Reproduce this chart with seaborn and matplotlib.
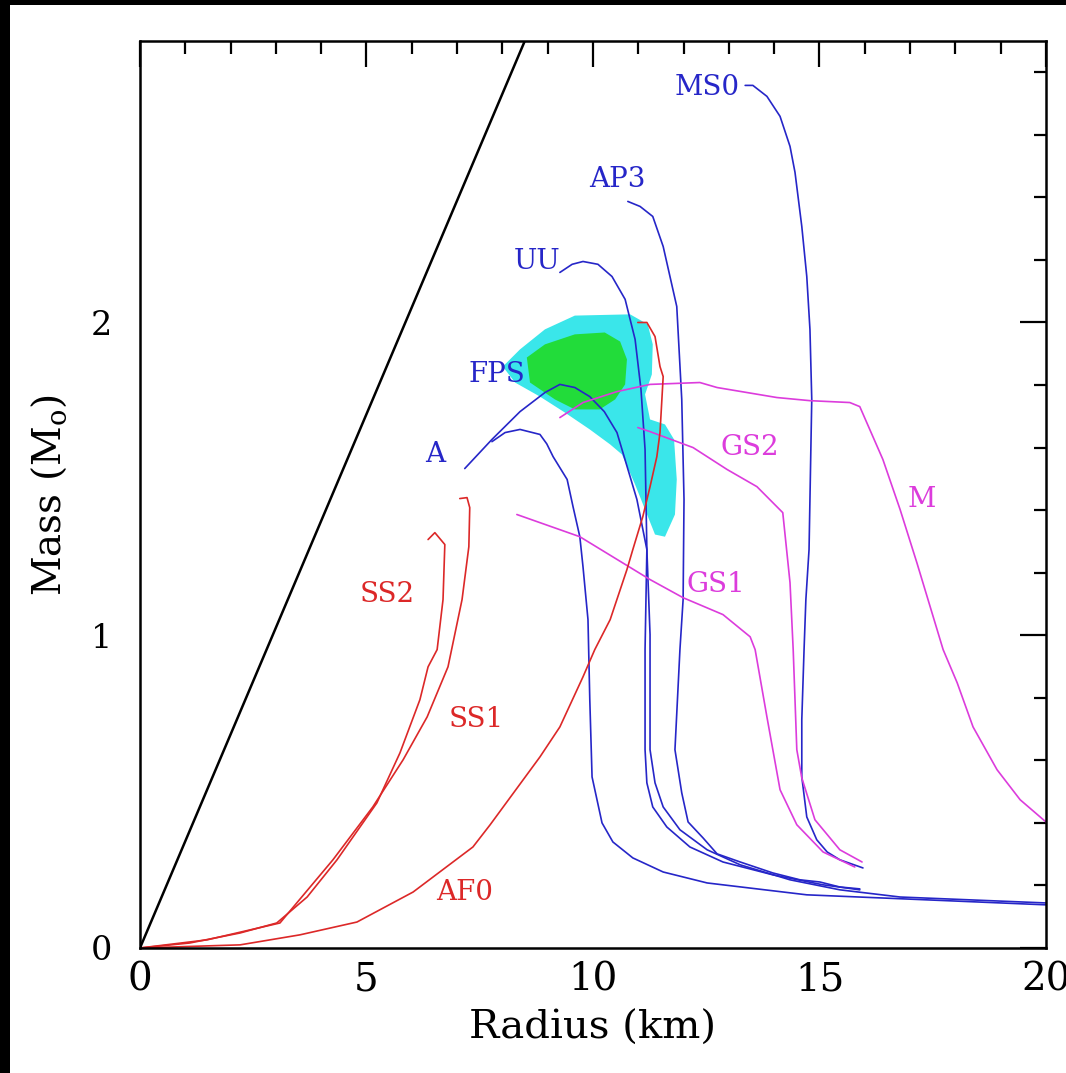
import numpy as np
import pandas as pd
import matplotlib
matplotlib.use("Agg")
import matplotlib.pyplot as plt
import seaborn as sns
from matplotlib.ticker import MultipleLocator
from matplotlib.patches import Rectangle, Polygon

sns.set_theme(style="white")
plt.rcParams["font.family"] = ["DejaVu Serif"]
plt.rcParams["mathtext.fontset"] = "dejavuserif"

# ---- mass-radius curves (R in km, M in solar masses) ----
R_MS0 = [13.36, 13.53, 13.84, 14.13, 14.35, 14.46, 14.61, 14.72, 14.79, 14.83, 14.79, 14.77,
         14.70, 14.66, 14.61, 14.61, 14.72, 14.94, 15.17, 15.45, 15.96]
M_MS0 = [2.758, 2.758, 2.723, 2.659, 2.563, 2.480, 2.307, 2.147, 1.978, 1.754, 1.434, 1.274,
         1.114, 0.954, 0.730, 0.547, 0.419, 0.346, 0.307, 0.282, 0.256]

R_AP3 = [10.77, 11.04, 11.32, 11.55, 11.70, 11.85, 11.96, 12.01, 11.99, 11.92, 11.81, 11.96,
         12.10, 12.43, 12.74, 13.25, 13.97, 14.57, 15.01, 15.45, 15.89]
M_AP3 = [2.387, 2.371, 2.339, 2.243, 2.147, 2.051, 1.754, 1.434, 1.114, 0.954, 0.634, 0.496,
         0.403, 0.352, 0.301, 0.275, 0.240, 0.218, 0.211, 0.195, 0.189]

R_UU = [9.27, 9.54, 9.78, 10.11, 10.42, 10.71, 10.93, 11.06, 11.15, 11.19, 11.15, 11.15,
        11.19, 11.32, 11.63, 12.14, 12.87, 13.97, 15.08, 15.89]
M_UU = [2.160, 2.186, 2.195, 2.186, 2.147, 2.074, 1.946, 1.786, 1.594, 1.274, 0.954, 0.634,
        0.528, 0.451, 0.387, 0.323, 0.275, 0.234, 0.202, 0.186]

R_FPS = [7.17, 7.77, 8.39, 8.94, 9.27, 9.60, 9.93, 10.25, 10.53, 10.97, 11.19, 11.26, 11.26,
         11.37, 11.55, 11.92, 12.52, 13.25, 14.35, 15.45, 16.78, 20.0]
M_FPS = [1.533, 1.626, 1.715, 1.776, 1.802, 1.792, 1.763, 1.715, 1.648, 1.434, 1.274, 1.002,
         0.634, 0.528, 0.451, 0.378, 0.314, 0.266, 0.218, 0.186, 0.163, 0.144]

R_A = [7.77, 8.06, 8.39, 8.83, 8.98, 9.12, 9.43, 9.56, 9.71, 9.78, 9.89, 9.93, 9.98, 10.20,
       10.44, 10.88, 11.55, 12.52, 14.72, 20.0]
M_A = [1.619, 1.648, 1.658, 1.642, 1.612, 1.571, 1.498, 1.411, 1.315, 1.219, 1.050, 0.794,
       0.547, 0.400, 0.339, 0.288, 0.243, 0.208, 0.170, 0.138]

R_GS1 = [8.32, 9.71, 11.26, 11.99, 12.87, 13.47, 13.58, 13.84, 14.13, 14.50, 15.08, 15.78]
M_GS1 = [1.386, 1.315, 1.178, 1.120, 1.066, 0.995, 0.954, 0.739, 0.506, 0.394, 0.307, 0.259]

R_GS2 = [10.99, 11.26, 12.21, 12.96, 13.62, 14.19, 14.35, 14.42, 14.50, 14.61, 14.90, 15.45, 15.94]
M_GS2 = [1.664, 1.651, 1.600, 1.530, 1.475, 1.392, 1.168, 0.954, 0.634, 0.544, 0.410, 0.314, 0.275]

R_M = [9.27, 9.78, 10.53, 11.26, 12.36, 12.74, 14.06, 14.79, 15.67, 15.89, 16.40, 16.78,
       17.15, 17.73, 18.04, 18.39, 18.92, 19.43, 20.0]
M_M = [1.696, 1.744, 1.779, 1.802, 1.808, 1.792, 1.760, 1.750, 1.744, 1.731, 1.562, 1.402,
       1.232, 0.954, 0.848, 0.707, 0.570, 0.474, 0.403]

R_SS2 = [6.36, 6.51, 6.73, 6.69, 6.56, 6.36, 6.18, 5.74, 5.23, 4.35, 3.69, 3.02, 2.21, 1.10, 0.0]
M_SS2 = [1.306, 1.328, 1.290, 1.114, 0.954, 0.899, 0.794, 0.624, 0.464, 0.282, 0.163, 0.080,
         0.048, 0.016, 0.0]

R_SS1 = [7.06, 7.22, 7.28, 7.26, 7.11, 6.80, 6.34, 5.81, 5.14, 4.26, 3.09, 1.48, 0.0]
M_SS1 = [1.437, 1.440, 1.408, 1.283, 1.114, 0.899, 0.739, 0.602, 0.451, 0.282, 0.080, 0.026, 0.0]

R_AF0 = [10.99, 11.19, 11.37, 11.48, 11.55, 11.48, 11.41, 11.26, 11.10, 10.88, 10.75, 10.38,
         10.04, 9.78, 9.27, 8.83, 7.73, 7.35, 6.03, 4.79, 3.53, 2.21, 0.0]
M_AF0 = [2.000, 2.000, 1.955, 1.859, 1.827, 1.648, 1.571, 1.475, 1.379, 1.274, 1.210, 1.050,
         0.954, 0.867, 0.707, 0.611, 0.394, 0.323, 0.179, 0.083, 0.042, 0.010, 0.0]

# causality / GR limit line through the origin
R_LIMIT = [0.0, 8.7]
M_LIMIT = [0.0, 2.97]

# observationally allowed region (outer) and its most likely core
REGION_R = [8.01, 8.39, 8.94, 9.60, 10.82, 11.21, 11.32, 11.30, 11.15, 11.26, 11.59, 11.79,
            11.85, 11.81, 11.59, 11.37, 11.15, 10.93, 10.64, 10.38, 9.93, 9.38, 8.83, 8.28]
REGION_M = [1.859, 1.914, 1.978, 2.022, 2.026, 1.994, 1.930, 1.834, 1.770, 1.690, 1.674, 1.626,
            1.498, 1.386, 1.315, 1.322, 1.402, 1.482, 1.578, 1.610, 1.658, 1.712, 1.763, 1.808]
CORE_R = [8.54, 8.94, 9.60, 10.26, 10.60, 10.75, 10.71, 10.49, 10.15, 9.60, 9.16, 8.61]
CORE_M = [1.888, 1.930, 1.962, 1.968, 1.939, 1.882, 1.802, 1.754, 1.722, 1.722, 1.754, 1.808]

BLUE = "#2626c8"
RED = "#dc2828"
MAGENTA = "#dc3cdc"

curves = {
    "MS0": (R_MS0, M_MS0, BLUE, 12.52, 2.752),
    "AP3": (R_AP3, M_AP3, BLUE, 10.53, 2.458),
    "UU": (R_UU, M_UU, BLUE, 8.76, 2.195),
    "FPS": (R_FPS, M_FPS, BLUE, 7.88, 1.834),
    "A": (R_A, M_A, BLUE, 6.51, 1.578),
    "GS1": (R_GS1, M_GS1, MAGENTA, 12.72, 1.162),
    "GS2": (R_GS2, M_GS2, MAGENTA, 13.47, 1.600),
    "M": (R_M, M_M, MAGENTA, 17.26, 1.434),
    "SS2": (R_SS2, M_SS2, RED, 5.45, 1.130),
    "SS1": (R_SS1, M_SS1, RED, 7.42, 0.730),
    "AF0": (R_AF0, M_AF0, RED, 7.17, 0.176),
}

frames = []
for name, (r, m, c, _, _) in curves.items():
    frames.append(pd.DataFrame({"eos": name, "R": r, "M": m}))
df = pd.concat(frames, ignore_index=True)
palette = {name: v[2] for name, v in curves.items()}

fig = plt.figure(figsize=(10.66, 10.73), dpi=100)
fig.patch.set_facecolor("white")
ax = fig.add_axes([0.1313, 0.1165, 0.8499, 0.8453])
ax.set_facecolor("white")

# allowed region
ax.add_patch(Polygon(np.column_stack([REGION_R, REGION_M]), closed=True,
                     facecolor="#3ae6ea", edgecolor="none", zorder=1))
ax.add_patch(Polygon(np.column_stack([CORE_R, CORE_M]), closed=True,
                     facecolor="#22dc3a", edgecolor="none", zorder=1.5))

sns.lineplot(data=df, x="R", y="M", hue="eos", palette=palette, estimator=None,
             sort=False, legend=False, linewidth=1.2, ax=ax, zorder=3)
sns.lineplot(x=R_LIMIT, y=M_LIMIT, color="black", linewidth=1.8, ax=ax, zorder=3)

for name, (_, _, c, tx, ty) in curves.items():
    ax.text(tx, ty, name, color=c, fontsize=20, ha="center", va="center", zorder=4)

ax.set_xlim(0, 20)
ax.set_ylim(0, 2.9)
ax.set_xticks([0, 5, 10, 15, 20])
ax.set_yticks([0, 1, 2])
ax.xaxis.set_minor_locator(MultipleLocator(1))
ax.yaxis.set_minor_locator(MultipleLocator(0.2))
ax.tick_params(which="both", direction="in", top=True, right=True, color="black",
               width=1.6)
ax.tick_params(which="major", length=19)
ax.tick_params(which="minor", length=9)
ax.tick_params(axis="x", labelsize=28, pad=10, labelcolor="black")
ax.tick_params(axis="y", labelsize=24, pad=20, labelcolor="black")
for s in ax.spines.values():
    s.set_color("black")
    s.set_linewidth(1.8)
    s.set_zorder(5)

ax.set_xlabel("Radius (km)", fontsize=29, labelpad=8, color="black")
ax.set_ylabel(r"Mass (M$_{\rm o}$)", fontsize=28, labelpad=16, color="black")

# dark frame on the top and left edges
fig.add_artist(Rectangle((0, 0), 10 / 1066, 1, transform=fig.transFigure,
                         facecolor="black", edgecolor="none"))
fig.add_artist(Rectangle((0, 1 - 5 / 1073), 1, 5 / 1073, transform=fig.transFigure,
                         facecolor="black", edgecolor="none"))

fig.savefig("out.png", dpi=100, facecolor="white")
